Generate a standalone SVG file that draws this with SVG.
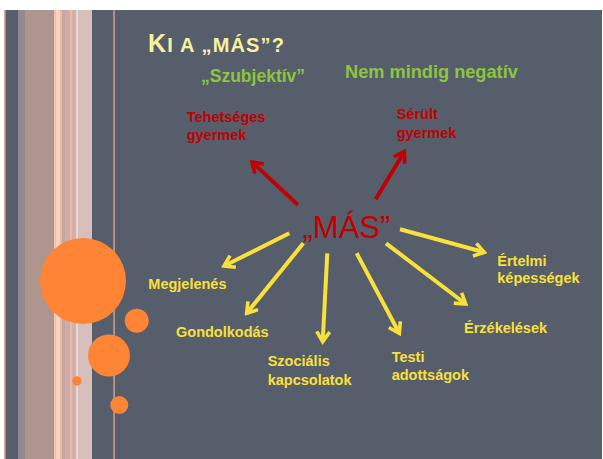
<svg xmlns="http://www.w3.org/2000/svg" width="603" height="459" viewBox="0 0 603 459">
<style>
.lbl{font-family:"Liberation Sans",Arial,sans-serif;font-weight:bold;font-size:14.5px}
.y{fill:#f9e03a}
.r{fill:#c00000}
.g{fill:#8cc63e;font-family:"Liberation Sans",Arial,sans-serif;font-weight:bold}
.ya{stroke:#f9e03a;stroke-width:4;fill:none;marker-end:url(#ay)}
.ra{stroke:#c00000;stroke-width:4;fill:none;marker-end:url(#ar)}
.dot{fill:#fd8535}
</style>
<defs>
<marker id="ay" markerUnits="userSpaceOnUse" viewBox="0 0 16 16" refX="13" refY="8" markerWidth="16" markerHeight="16" orient="auto">
<path d="M3,1.5 L13,8 L3,14.5" fill="none" stroke="#f9e03a" stroke-width="3.6" stroke-linecap="butt" stroke-linejoin="miter"/>
</marker>
<marker id="ar" markerUnits="userSpaceOnUse" viewBox="0 0 16 16" refX="13" refY="8" markerWidth="16" markerHeight="16" orient="auto">
<path d="M3,1.5 L13,8 L3,14.5" fill="none" stroke="#c00000" stroke-width="3.6" stroke-linecap="butt" stroke-linejoin="miter"/>
</marker>
</defs>
<rect x="0" y="0" width="603" height="459" fill="#ffffff"/>
<rect x="4" y="10" width="598" height="449" fill="#575e6b"/>
<g id="stripes">
<rect x="4" y="10" width="1.6" height="449" fill="#e0a898"/>
<rect x="18" y="10" width="7" height="449" fill="#8e8a8f"/>
<rect x="25" y="10" width="29" height="449" fill="#ae958e"/>
<rect x="54" y="10" width="2" height="449" fill="#f1c3b3"/>
<rect x="56" y="10" width="4" height="449" fill="#fbd0be"/>
<rect x="60" y="10" width="2" height="449" fill="#e9b8a8"/>
<rect x="62" y="10" width="3" height="449" fill="#c2a8a3"/>
<rect x="65" y="10" width="5" height="449" fill="#d3aba4"/>
<rect x="70" y="10" width="2" height="449" fill="#e6b9aa"/>
<rect x="72" y="10" width="4" height="449" fill="#d4b0aa"/>
<rect x="76" y="10" width="2" height="449" fill="#ecd9d6"/>
<rect x="78" y="10" width="14" height="449" fill="#d6bfbd"/>
<rect x="113.3" y="10" width="1.6" height="449" fill="#c99a8e"/>
</g>
<g id="circles">
<circle class="dot" cx="83" cy="281" r="43"/>
<circle class="dot" cx="136.7" cy="320.7" r="12"/>
<circle class="dot" cx="109" cy="355.5" r="21"/>
<circle class="dot" cx="77" cy="381" r="4.7"/>
<circle class="dot" cx="119.3" cy="405" r="9"/>
</g>
<g id="title">
<text x="148" y="52" fill="#f8f2a0" font-family="'Liberation Sans',Arial,sans-serif" font-weight="bold" font-size="20" textLength="136" lengthAdjust="spacing"><tspan font-size="25">K</tspan>I A „MÁS”?</text>
</g>
<g id="szubjektiv"><text class="g" x="201" y="82" font-size="17.5">„Szubjektív”</text></g>
<g id="nem-mindig"><text class="g" x="345" y="78" font-size="18.2">Nem mindig negatív</text></g>
<g id="connectors">
<line class="ra" x1="298" y1="205" x2="252" y2="162"/>
<line class="ra" x1="375.7" y1="199.3" x2="404.3" y2="151.7"/>
<line class="ya" x1="289.3" y1="233.3" x2="224" y2="266"/>
<line class="ya" x1="303.3" y1="243.3" x2="246.7" y2="313.3"/>
<line class="ya" x1="327.3" y1="253.3" x2="322.7" y2="341.7"/>
<line class="ya" x1="356.7" y1="253.3" x2="399.3" y2="333.3"/>
<line class="ya" x1="386" y1="243.3" x2="465.7" y2="304"/>
<line class="ya" x1="400" y1="229.3" x2="484.3" y2="252.3"/>
</g>
<g id="mas"><text x="302.5" y="238.3" fill="#c00000" font-family="'Liberation Sans',Arial,sans-serif" font-size="31">„MÁS”</text></g>
<g id="tehetseges"><text class="lbl r" x="186.7" y="121.7">Tehetséges<tspan x="186.7" y="140">gyermek</tspan></text></g>
<g id="serult"><text class="lbl r" x="396.7" y="119.3">Sérült<tspan x="396.7" y="138.3">gyermek</tspan></text></g>
<g id="megjelenes"><text class="lbl y" x="148.3" y="289.3">Megjelenés</text></g>
<g id="gondolkodas"><text class="lbl y" x="176" y="337.3">Gondolkodás</text></g>
<g id="szocialis"><text class="lbl y" x="267.7" y="366">Szociális<tspan x="267.7" y="385">kapcsolatok</tspan></text></g>
<g id="testi"><text class="lbl y" x="391.7" y="361.7">Testi<tspan x="391.7" y="380">adottságok</tspan></text></g>
<g id="erzekelesek"><text class="lbl y" x="464" y="332.7">Érzékelések</text></g>
<g id="ertelmi"><text class="lbl y" x="497.3" y="266">Értelmi<tspan x="497.3" y="283.3">képességek</tspan></text></g>
</svg>
